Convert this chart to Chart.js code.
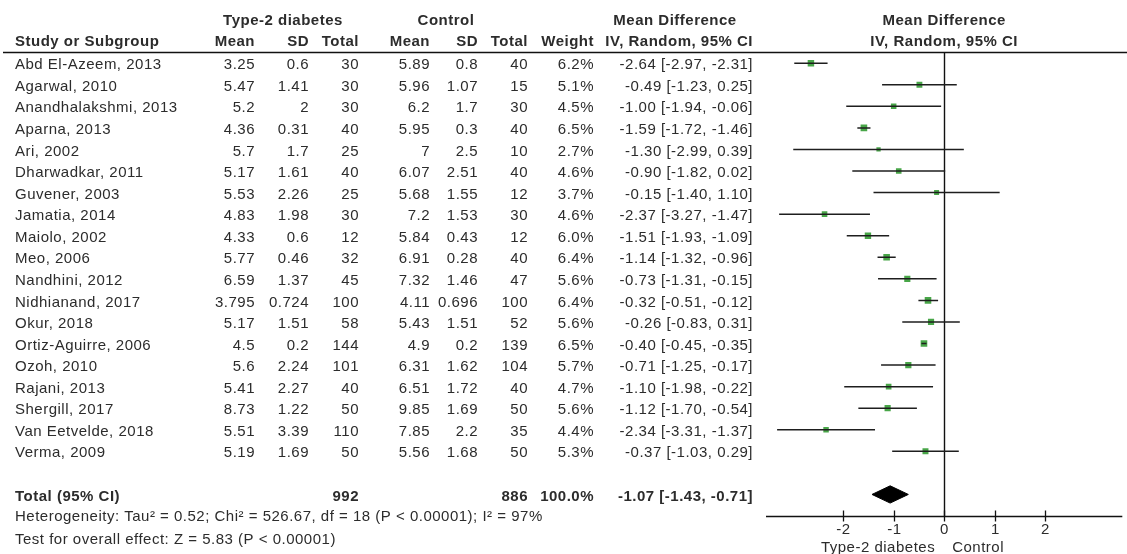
<!DOCTYPE html>
<html>
<head>
<meta charset="utf-8">
<script src="https://cdn.jsdelivr.net/npm/chart.js@4.4.1/dist/chart.umd.min.js"></script>
<style>
html,body{margin:0;padding:0;background:#fff;}
#c{display:block;}
</style>
</head>
<body>
<canvas id="c" width="1127" height="554"></canvas>
<script>
const studies = ["Abd El-Azeem, 2013","Agarwal, 2010","Anandhalakshmi, 2013","Aparna, 2013","Ari, 2002","Dharwadkar, 2011","Guvener, 2003","Jamatia, 2014","Maiolo, 2002","Meo, 2006","Nandhini, 2012","Nidhianand, 2017","Okur, 2018","Ortiz-Aguirre, 2006","Ozoh, 2010","Rajani, 2013","Shergill, 2017","Van Eetvelde, 2018","Verma, 2009"];
const t2Mean = [3.25,5.47,5.2,4.36,5.7,5.17,5.53,4.83,4.33,5.77,6.59,3.795,5.17,4.5,5.6,5.41,8.73,5.51,5.19];
const t2SD = [0.6,1.41,2,0.31,1.7,1.61,2.26,1.98,0.6,0.46,1.37,0.724,1.51,0.2,2.24,2.27,1.22,3.39,1.69];
const t2N = [30,30,30,40,25,40,25,30,12,32,45,100,58,144,101,40,50,110,50];
const ctMean = [5.89,5.96,6.2,5.95,7,6.07,5.68,7.2,5.84,6.91,7.32,4.11,5.43,4.9,6.31,6.51,9.85,7.85,5.56];
const ctSD = [0.8,1.07,1.7,0.3,2.5,2.51,1.55,1.53,0.43,0.28,1.46,0.696,1.51,0.2,1.62,1.72,1.69,2.2,1.68];
const ctN = [40,15,30,40,10,40,12,30,12,40,47,100,52,139,104,40,50,35,50];
const weight = [6.2,5.1,4.5,6.5,2.7,4.6,3.7,4.6,6.0,6.4,5.6,6.4,5.6,6.5,5.7,4.7,5.6,4.4,5.3];
const md = [-2.64,-0.49,-1.00,-1.59,-1.30,-0.90,-0.15,-2.37,-1.51,-1.14,-0.73,-0.32,-0.26,-0.40,-0.71,-1.10,-1.12,-2.34,-0.37];
const lo = [-2.97,-1.23,-1.94,-1.72,-2.99,-1.82,-1.40,-3.27,-1.93,-1.32,-1.31,-0.51,-0.83,-0.45,-1.25,-1.98,-1.70,-3.31,-1.03];
const hi = [-2.31,0.25,-0.06,-1.46,0.39,0.02,1.10,-1.47,-1.09,-0.96,-0.15,-0.12,0.31,-0.35,-0.17,-0.22,-0.54,-1.37,0.29];
const totalLabel = "Total (95% CI)";
const totalT2N = 992, totalCtN = 886, totalWeight = 100.0;
const totalMD = -1.07, totalLo = -1.43, totalHi = -0.71;
const tickVals = [-2,-1,0,1,2];
const tickLabels = ["-2","-1","0","1","2"];
const heteroText = "Heterogeneity: Tau\u00b2 = 0.52; Chi\u00b2 = 526.67, df = 18 (P < 0.00001); I\u00b2 = 97%";
const overallText = "Test for overall effect: Z = 5.83 (P < 0.00001)";
const favoursLeft = "Type-2 diabetes", favoursRight = "Control";

const TOTAL_ROW = studies.length + 1;
const FONT = '"Liberation Sans", Arial, sans-serif';
const TXT = '#2c2c2c';
const fmt2 = v => v.toFixed(2);
const ciText = (m,l,h) => fmt2(m) + ' [' + fmt2(l) + ', ' + fmt2(h) + ']';

const datasets = [];
studies.forEach((s,i) => {
  datasets.push({type:'scatter', data:[{x:lo[i],y:i},{x:hi[i],y:i}], showLine:true,
    borderColor:'#1e1e1e', borderWidth:1.5, pointRadius:0, fill:false});
});
datasets.push({type:'scatter', data: md.map((m,i)=>({x:m,y:i})),
  pointStyle:'rect', pointRadius: weight.map(w => Math.sqrt(w)*2.6/1.414),
  backgroundColor:'#48a648', borderColor:'#48a648', borderWidth:0, showLine:false});
datasets.push({type:'scatter', data:[{x:totalLo,y:TOTAL_ROW},{x:totalMD,y:TOTAL_ROW-0.4},{x:totalHi,y:TOTAL_ROW},{x:totalMD,y:TOTAL_ROW+0.4},{x:totalLo,y:TOTAL_ROW}],
  showLine:true, fill:'shape', backgroundColor:'#000', borderColor:'#000', borderWidth:1, pointRadius:0, tension:0});

const tablePlugin = {
  id:'table',
  beforeDatasetsDraw(chart){
    const {ctx, chartArea:a, scales:{x,y}} = chart;
    ctx.save();
    ctx.strokeStyle = '#111'; ctx.lineWidth = 1.4;
    const x0 = Math.round(x.getPixelForValue(0)) + 0.5;
    ctx.beginPath(); ctx.moveTo(x0, a.top); ctx.lineTo(x0, a.bottom); ctx.stroke();
    ctx.restore();
  },
  afterDatasetsDraw(chart){
    const {ctx, chartArea:a, scales:{x,y}} = chart;
    ctx.save();
    ctx.fillStyle = TXT;
    ctx.textBaseline = 'middle';
    try { ctx.letterSpacing = '0.5px'; } catch(e) {}
    const boldF = 'bold 15px ' + FONT, norm = '15px ' + FONT;
    const hdr1 = 21, hdr2 = 42;
    // header
    ctx.font = boldF;
    ctx.textAlign = 'center';
    ctx.fillText('Type-2 diabetes', 283, hdr1);
    ctx.fillText('Control', 446, hdr1);
    ctx.fillText('Mean Difference', 675, hdr1);
    const xz = x.getPixelForValue(0);
    ctx.fillText('Mean Difference', xz, hdr1);
    ctx.fillText('IV, Random, 95% CI', xz, hdr2);
    ctx.textAlign = 'left';
    ctx.fillText('Study or Subgroup', 15, hdr2);
    ctx.textAlign = 'right';
    const cols = [255, 309, 359, 430, 478, 528, 594, 753];
    ['Mean','SD','Total','Mean','SD','Total','Weight','IV, Random, 95% CI'].forEach((t,k)=>ctx.fillText(t, cols[k], hdr2));
    // header rule
    ctx.strokeStyle = '#111'; ctx.lineWidth = 1.3;
    ctx.beginPath(); ctx.moveTo(3, 52.5); ctx.lineTo(1127, 52.5); ctx.stroke();
    // rows
    ctx.font = norm;
    studies.forEach((s,i)=>{
      const yy = y.getPixelForValue(i) + 2;
      ctx.textAlign = 'left';
      ctx.fillText(s, 15, yy);
      ctx.textAlign = 'right';
      const vals = [String(t2Mean[i]), String(t2SD[i]), String(t2N[i]), String(ctMean[i]), String(ctSD[i]), String(ctN[i]), weight[i].toFixed(1)+'%', ciText(md[i],lo[i],hi[i])];
      vals.forEach((v,k)=>ctx.fillText(v, cols[k], yy));
    });
    // total row
    const ty = y.getPixelForValue(TOTAL_ROW) + 2;
    ctx.font = boldF;
    ctx.textAlign = 'left';
    ctx.fillText(totalLabel, 15, ty);
    ctx.textAlign = 'right';
    ctx.fillText(String(totalT2N), cols[2], ty);
    ctx.fillText(String(totalCtN), cols[5], ty);
    ctx.fillText(totalWeight.toFixed(1)+'%', cols[6], ty);
    ctx.fillText(ciText(totalMD,totalLo,totalHi), cols[7], ty);
    // footnotes
    ctx.font = norm;
    ctx.textAlign = 'left';
    ctx.fillText(heteroText, 15, 517);
    ctx.fillText(overallText, 15, 540);
    // x axis
    ctx.strokeStyle = '#111'; ctx.lineWidth = 1.3;
    const ay = Math.round(a.bottom) + 0.5;
    ctx.beginPath(); ctx.moveTo(a.left, ay); ctx.lineTo(a.right, ay); ctx.stroke();
    ctx.textAlign = 'center';
    tickVals.forEach((v,k)=>{
      const px = Math.round(x.getPixelForValue(v)) + 0.5;
      ctx.beginPath(); ctx.moveTo(px, ay-6); ctx.lineTo(px, ay+5); ctx.stroke();
      ctx.fillText(tickLabels[k], px, 530);
    });
    ctx.textAlign = 'right';
    ctx.fillText(favoursLeft, xz - 9, 548);
    ctx.textAlign = 'left';
    ctx.fillText(favoursRight, xz + 8, 548);
    ctx.restore();
  }
};

new Chart(document.getElementById('c'), {
  type:'scatter',
  data:{datasets},
  options:{
    responsive:false, animation:false, devicePixelRatio:1,
    layout:{padding:{left:766, right:2, top:52, bottom:38}},
    plugins:{legend:{display:false}, tooltip:{enabled:false}},
    scales:{
      x:{type:'linear', display:false, min:-3.53, max:3.53},
      y:{type:'linear', display:false, min:-0.52, max:21, reverse:true}
    }
  },
  plugins:[tablePlugin]
});
</script>
</body>
</html>
